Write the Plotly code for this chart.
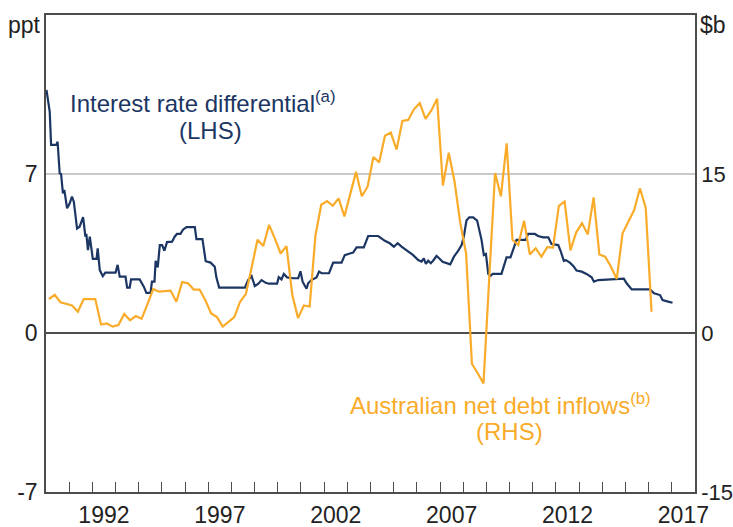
import plotly.graph_objects as go

# ---------------- data ----------------
# Interest rate differential (ppt, LHS) - decimal year / value
ird_year = [1990.02, 1990.16, 1990.22, 1990.45, 1990.50, 1990.59, 1990.65, 1990.73, 1990.79, 1990.91,
            1991.02, 1991.12, 1991.20, 1991.34, 1991.45, 1991.60, 1991.70, 1991.74, 1991.81, 1991.89,
            1992.02, 1992.18, 1992.23, 1992.32, 1992.45, 1992.56, 1993.00, 1993.09, 1993.18, 1993.43,
            1993.50, 1993.61, 1993.67, 1994.04, 1994.22, 1994.33, 1994.51, 1994.57, 1994.68, 1994.73,
            1994.82, 1994.91, 1995.01, 1995.11, 1995.22, 1995.44, 1995.55, 1995.65, 1995.80, 1995.91,
            1996.06, 1996.42, 1996.49, 1996.75, 1996.89, 1997.10, 1997.28, 1997.35, 1997.47, 1998.58,
            1998.72, 1998.87, 1999.01, 1999.15, 1999.30, 1999.48, 1999.62, 1999.97, 2000.04, 2000.16,
            2000.26, 2000.40, 2000.66, 2000.88, 2000.98, 2001.07, 2001.24, 2001.31, 2001.45, 2001.67,
            2001.78, 2001.89, 2002.21, 2002.39, 2002.75, 2002.89, 2003.11, 2003.25, 2003.40, 2003.71,
            2003.90, 2004.33, 2004.62, 2004.83, 2005.01, 2005.17, 2005.34, 2005.55, 2005.84, 2006.06,
            2006.20, 2006.30, 2006.39, 2006.49, 2006.60, 2006.70, 2006.85, 2006.96, 2007.11, 2007.44,
            2007.60, 2007.78, 2007.93, 2008.03, 2008.14, 2008.26, 2008.43, 2008.60, 2008.69, 2008.79,
            2008.89, 2008.98, 2009.08, 2009.18, 2009.27, 2009.65, 2009.87, 2010.04, 2010.19, 2010.30,
            2010.70, 2010.80, 2011.09, 2011.23, 2011.45, 2011.67, 2011.81, 2012.10, 2012.20, 2012.34,
            2012.43, 2012.60, 2012.75, 2012.89, 2013.11, 2013.32, 2013.54, 2013.64, 2013.82, 2014.62,
            2014.93, 2015.05, 2015.27, 2016.06, 2016.23, 2016.49, 2016.60, 2016.84, 2017.03]
ird_value = [10.7, 9.75, 8.28, 8.28, 8.42, 7.03, 7.0, 6.15, 6.3, 5.49,
             5.7, 6.0, 5.78, 4.6, 4.68, 5.1, 4.24, 4.36, 3.65, 4.24,
             3.26, 3.26, 3.73, 2.77, 2.5, 2.66, 2.66, 3.0, 2.48, 2.48,
             2.0, 2.0, 2.36, 2.36, 2.04, 1.77, 1.77, 2.26, 2.26, 3.18,
             2.89, 3.87, 3.87, 3.62, 4.0, 4.02, 4.24, 4.36, 4.36, 4.55,
             4.66, 4.66, 4.13, 4.13, 3.16, 3.1, 2.92, 2.45, 2.0, 2.0,
             2.33, 2.5, 2.07, 2.16, 2.33, 2.21, 2.17, 2.17, 2.46, 2.36,
             2.6, 2.45, 2.41, 2.41, 2.72, 2.26, 1.95, 2.19, 2.33, 2.45,
             2.7, 2.63, 2.63, 3.1, 3.1, 3.43, 3.5, 3.54, 3.77, 3.77,
             4.27, 4.27, 4.06, 3.95, 3.8, 3.95, 3.8, 3.65, 3.43, 3.21,
             3.14, 3.29, 3.04, 3.18, 3.07, 3.18, 3.39, 3.29, 3.14, 3.02,
             3.36, 3.62, 3.87, 4.27, 4.95, 5.09, 5.09, 4.95, 4.54, 4.1,
             3.43, 3.48, 2.6, 2.52, 2.6, 2.6, 3.33, 3.33, 3.77, 4.1,
             4.1, 4.36, 4.36, 4.27, 4.21, 4.21, 3.92, 3.87, 3.62, 3.18,
             3.21, 3.1, 2.95, 2.75, 2.7, 2.6, 2.45, 2.26, 2.33, 2.39,
             2.39, 2.19, 1.92, 1.92, 1.75, 1.67, 1.45, 1.38, 1.33]

# Australian net debt inflows ($b, RHS) - quarterly, 1990 Q1 to 2016 Q1
flows_start = 1990.125
flows_value = [3.2, 3.6, 2.9, 2.75, 2.6, 2.0, 3.2, 3.2, 3.2, 0.8,
               0.9, 0.6, 0.75, 1.8, 1.2, 1.6, 1.35, 2.7, 4.15, 3.9,
               3.95, 4.0, 2.95, 4.8, 4.7, 4.1, 4.1, 3.1, 1.85, 1.5,
               0.6, 1.07, 1.5, 2.95, 3.7, 6.2, 8.8, 8.2, 10.2, 8.9,
               7.5, 8.2, 3.6, 1.4, 2.6, 2.5, 9.2, 12.1, 12.45, 12.0,
               12.7, 11.0, 13.1, 15.2, 12.9, 13.8, 16.6, 16.1, 18.6, 18.9,
               17.3, 20.0, 20.1, 21.1, 21.7, 20.2, 21.0, 22.1, 13.9, 17.0,
               14.3, 10.35, 7.5, -2.9, -3.8, -4.75, 5.3, 15.1, 12.9, 17.9,
               8.8, 8.3, 10.6, 7.4, 8.0, 7.2, 8.1, 8.05, 12.0, 12.4,
               7.8, 9.5, 10.35, 9.3, 12.8, 7.4, 7.2, 6.25, 5.1, 9.4,
               10.5, 11.6, 13.65, 11.8, 2.0]
flows_year = [flows_start + 0.25 * i for i in range(len(flows_value))]

year_labels = ["1992", "1997", "2002", "2007", "2012", "2017"]
label_pos = [1992.5, 1997.5, 2002.5, 2007.5, 2012.5, 2017.5]
year_ticks = list(range(1991, 2018))

NAVY = "#1c3663"
ORANGE = "#f9ab2a"
FONT = "Liberation Sans, Arial, sans-serif"
FS = 23
FA = 24

fig = go.Figure()
fig.add_trace(go.Scatter(x=flows_year, y=flows_value, yaxis="y2", mode="lines",
                         line=dict(color=ORANGE, width=2.2), showlegend=False))
fig.add_trace(go.Scatter(x=ird_year, y=ird_value, mode="lines",
                         line=dict(color=NAVY, width=2.2), showlegend=False))

fig.update_layout(
    width=733, height=527,
    margin=dict(l=46, r=38, t=15, b=35, autoexpand=False),
    plot_bgcolor="white", paper_bgcolor="white",
    font=dict(family=FONT, size=FS, color="#222222"),
    xaxis=dict(range=[1990, 2018], tickmode="array", tickvals=label_pos, ticktext=year_labels,
               ticks="", showgrid=False, zeroline=False, showline=True, linecolor="#4d4d4d",
               linewidth=1.5, mirror=True, ticklabelstandoff=2, automargin=False,
               minor=dict(tickmode="array", tickvals=year_ticks, ticks="inside", ticklen=10,
                          tickwidth=1.2, tickcolor="#4d4d4d", showgrid=False)),
    yaxis=dict(range=[-7, 14], tickmode="array", tickvals=[-7, 0, 7], ticktext=["-7", "0", "7"],
               showgrid=True, gridcolor="#c9c9c9", gridwidth=1.5, zeroline=True,
               zerolinecolor="#4d4d4d", zerolinewidth=1.5, showline=True, linecolor="#4d4d4d",
               linewidth=1.5, ticks="", ticklabelstandoff=2, automargin=False),
    yaxis2=dict(range=[-15, 30], overlaying="y", side="right", tickmode="array",
                tickvals=[-15, 0, 15], ticktext=["-15", "0", "15"], showgrid=False,
                zeroline=False, showline=True, linecolor="#4d4d4d", linewidth=1.5,
                ticks="", ticklabelstandoff=0, automargin=False,
                tickfont=dict(size=22)),
    annotations=[
        dict(text="ppt", xref="paper", yref="paper", x=-0.004, y=0.98, xanchor="right",
             yanchor="middle", showarrow=False, font=dict(size=FS, color="#222222")),
        dict(text="$b", xref="paper", yref="paper", x=1.004, y=0.98, xanchor="left",
             yanchor="middle", showarrow=False, font=dict(size=FS, color="#222222")),
        dict(text="Interest rate differential<sup>(a)</sup>", x=1996.76, y=10.18,
             xref="x", yref="y", showarrow=False, font=dict(size=FA, color=NAVY)),
        dict(text="(LHS)", x=1997.1, y=8.93, xref="x", yref="y", showarrow=False,
             font=dict(size=FA, color=NAVY)),
        dict(text="Australian net debt inflows<sup>(b)</sup>", x=2009.6, y=-3.12,
             xref="x", yref="y", showarrow=False, font=dict(size=FA, color=ORANGE)),
        dict(text="(RHS)", x=2010.0, y=-4.32, xref="x", yref="y", showarrow=False,
             font=dict(size=FA, color=ORANGE)),
    ],
)

fig.write_html("out.html", config={"displayModeBar": False},
               post_script="document.body.style.margin='0';document.body.style.padding='0';")
